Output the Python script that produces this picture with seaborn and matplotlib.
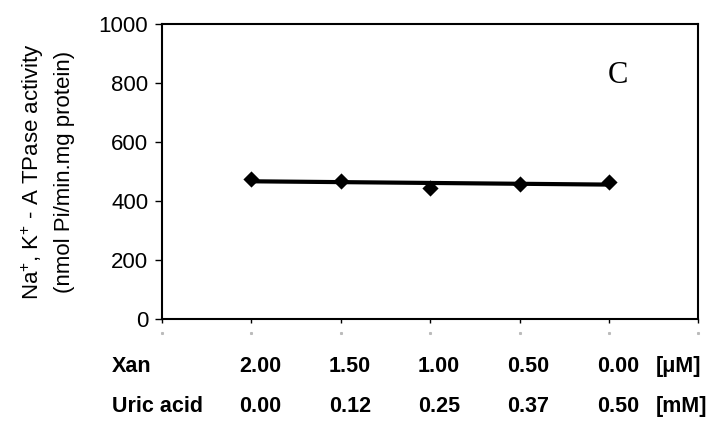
import numpy as np
import pandas as pd
import seaborn as sns
import matplotlib.pyplot as plt

# data
positions = [1, 2, 3, 4, 5]
activity = [474, 467, 443, 459, 464]
xan_labels = ["2.00", "1.50", "1.00", "0.50", "0.00"]
uric_labels = ["0.00", "0.12", "0.25", "0.37", "0.50"]
y_ticks = [0, 200, 400, 600, 800, 1000]

df = pd.DataFrame({"pos": positions, "activity": activity})

sns.set_style("white")
plt.rcParams['font.family'] = ['Liberation Sans', 'DejaVu Sans']
plt.rcParams['mathtext.fontset'] = 'custom'
plt.rcParams['mathtext.rm'] = 'Liberation Sans'
plt.rcParams['mathtext.it'] = 'Liberation Sans'
plt.rcParams['text.color'] = 'black'
plt.rcParams['axes.labelcolor'] = 'black'
plt.rcParams['xtick.color'] = 'black'
plt.rcParams['ytick.color'] = 'black'

fig = plt.figure(figsize=(7.14, 4.21), dpi=100)
ax = fig.add_axes([0.227, 0.242, 0.751, 0.701])

sns.regplot(data=df, x="pos", y="activity", ax=ax, ci=None, color="black",
            marker="D", scatter_kws={"s": 68, "zorder": 3, "linewidths": 0,
                                     "alpha": 1},
            line_kws={"lw": 3})

ax.set_xlim(0, 6)
ax.set_ylim(0, 1000)
ax.set_yticks(y_ticks)
ax.set_yticklabels([str(v) for v in y_ticks], fontsize=16)
ax.set_xticks(range(7))
ax.set_xticklabels([""] * 7)
ax.tick_params(axis="y", direction="out", length=5, width=1, left=True, pad=5)
ax.tick_params(axis="x", direction="out", length=3, width=1, bottom=True)
for s in ax.spines.values():
    s.set_linewidth(1.5)
    s.set_color("black")
ax.set_xlabel("")
ax.set_ylabel("Na$^{+}$, K$^{+}$ - A TPase activity\n(nmol Pi/min.mg protein)",
              fontsize=16, labelpad=17, linespacing=1.5)

# faint dots under the x ticks
trans = ax.get_xaxis_transform()
ax.plot(range(7), [-0.048] * 7, "s", ms=1.2, color="#bbbbbb",
        transform=trans, clip_on=False)

ax.text(0.851, 0.824, "C", transform=ax.transAxes, fontsize=22,
        family="Liberation Serif", ha="center", va="center")

# category rows under the axis
row1_y = -0.16
row2_y = -0.295
ax.text(-0.093, row1_y, "Xan", transform=ax.transAxes, fontsize=15.5,
        fontweight="bold", ha="left", va="center")
ax.text(-0.093, row2_y, "Uric acid", transform=ax.transAxes, fontsize=15.5,
        fontweight="bold", ha="left", va="center")
for p, a, b in zip(positions, xan_labels, uric_labels):
    ax.text(p + 0.1, row1_y, a, transform=trans, fontsize=15.5,
            fontweight="bold", ha="center", va="center")
    ax.text(p + 0.1, row2_y, b, transform=trans, fontsize=15.5,
            fontweight="bold", ha="center", va="center")
ax.text(5.52, row1_y, "[μM]", transform=trans, fontsize=15.5,
        fontweight="bold", ha="left", va="center")
ax.text(5.52, row2_y, "[mM]", transform=trans, fontsize=15.5,
        fontweight="bold", ha="left", va="center")

fig.savefig("out.png", dpi=100)
